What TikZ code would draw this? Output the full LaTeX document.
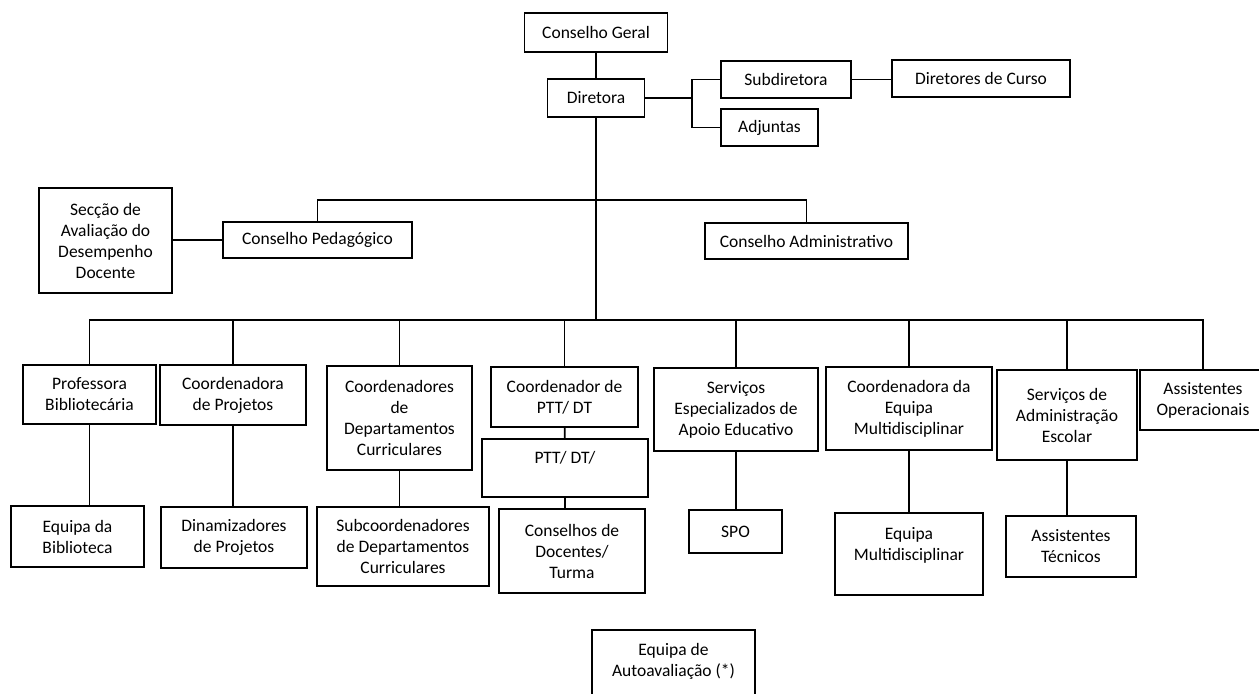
\documentclass[tikz,border=0pt]{standalone}
\usepackage{fontspec}
\setmainfont{Carlito}
\tikzset{box/.style={draw,line width=0.9pt,align=center,inner sep=0pt},boxsize/.style 2 args={minimum width=#1*0.5pt,minimum height=#2*0.5pt},link/.style={line width=0.9pt}}

\begin{document}
\begin{tikzpicture}[x=0.5pt,y=-0.5pt,font=\fontsize{8.75}{10.5}\selectfont]
\useasboundingbox (0,0) rectangle (1259,693);
% direction
\node[box,boxsize={143}{39}] (geral) at (596,32.5) {Conselho Geral};
\node[box,boxsize={97}{38}] (dir) at (596,98) {Diretora};
\node[box,boxsize={130}{37}] (sub) at (786,79.5) {Subdiretora};
\node[box,boxsize={97}{37}] (adj) at (769.5,127.5) {Adjuntas};
\node[box,boxsize={178}{37}] (curso) at (981,78.5) {Diretores de Curso};
\coordinate (fork) at (692,98);
\draw[link] (geral) -- (dir);
\draw[link] (dir.east) -- (fork) |- (sub.west);
\draw[link] (fork) |- (adj.west);
\draw[link] (sub.east) -- (sub.east -| curso.west);
% councils
\node[box,boxsize={189}{36}] (ped) at (317.5,240) {Conselho Pedagógico};
\node[box,boxsize={203}{36}] (adm) at (806.5,241) {Conselho Administrativo};
\node[box,boxsize={133}{105}] (seccao) at (105.5,240.5) {Secção de\\Avaliação do\\Desempenho\\Docente};
\draw[link] (ped.north) -- ++(0,-21) -| (adm.north);
\draw[link] (ped.west) -- (ped.west -| seccao.east);
% structures
\coordinate (bus) at (596,320);
\draw[link] (dir) -- (bus);
\node[box,boxsize={133}{59}] (prof) at (89.5,394.5) {Professora\\Bibliotecária};
\node[box,boxsize={146}{60}] (cproj) at (233,395) {Coordenadora\\de Projetos};
\node[box,boxsize={145}{104}] (cdep) at (399.5,418) {Coordenadores\\de\\Departamentos\\Curriculares};
\node[box,boxsize={147}{60}] (cptt) at (564.5,397) {Coordenador de\\PTT/ DT};
\node[box,boxsize={164}{83}] (sea) at (736,409.5) {Serviços\\Especializados de\\Apoio Educativo};
\node[box,boxsize={166}{83}] (cem) at (909,408.5) {Coordenadora da\\Equipa\\Multidisciplinar};
\node[box,boxsize={140}{90}] (sae) at (1067,415) {Serviços de\\Administração\\Escolar};
\node[box,boxsize={126}{60}] (assop) at (1203,400) {Assistentes\\Operacionais};
\foreach \n in {prof,cproj,cdep,cptt,sea,cem,sae,assop}
  \draw[link] (bus) -| (\n.north);
% teams
\node[box,boxsize={166}{58}] (ptt) at (565,468) {PTT/ DT/\\\mbox{}};
\node[box,boxsize={146}{84}] (cdoc) at (572,551) {Conselhos de\\Docentes/\\Turma};
\node[box,boxsize={133}{61}] (ebib) at (77.5,536.5) {Equipa da\\Biblioteca};
\node[box,boxsize={146}{61}] (dinam) at (234,537.5) {Dinamizadores\\de Projetos};
\node[box,boxsize={172}{79}] (subc) at (403,546.5) {Subcoordenadores\\de Departamentos\\Curriculares};
\node[box,boxsize={93}{43}] (spo) at (735.5,531.5) {SPO};
\node[box,boxsize={148}{82}] (emult) at (909,554) {Equipa\\Multidisciplinar\\\mbox{}};
\node[box,boxsize={130}{61}] (atec) at (1071,546.5) {Assistentes\\Técnicos};
\draw[link] (cptt) -- (ptt);
\draw[link] (ptt.south) -- (ptt.south |- cdoc.north);
\draw[link] (prof.south) -- (prof.south |- ebib.north);
\draw[link] (cproj.south) -- (cproj.south |- dinam.north);
\draw[link] (cdep.south) -- (cdep.south |- subc.north);
\draw[link] (sea.south) -- (sea.south |- spo.north);
\draw[link] (cem.south) -- (cem.south |- emult.north);
\draw[link] (sae.south) -- (sae.south |- atec.north);
% self-evaluation
\node[box,boxsize={163}{80}] (auto) at (673.5,670) {Equipa de\\Autoavaliação (*)\\\mbox{}};
\end{tikzpicture}
\end{document}
